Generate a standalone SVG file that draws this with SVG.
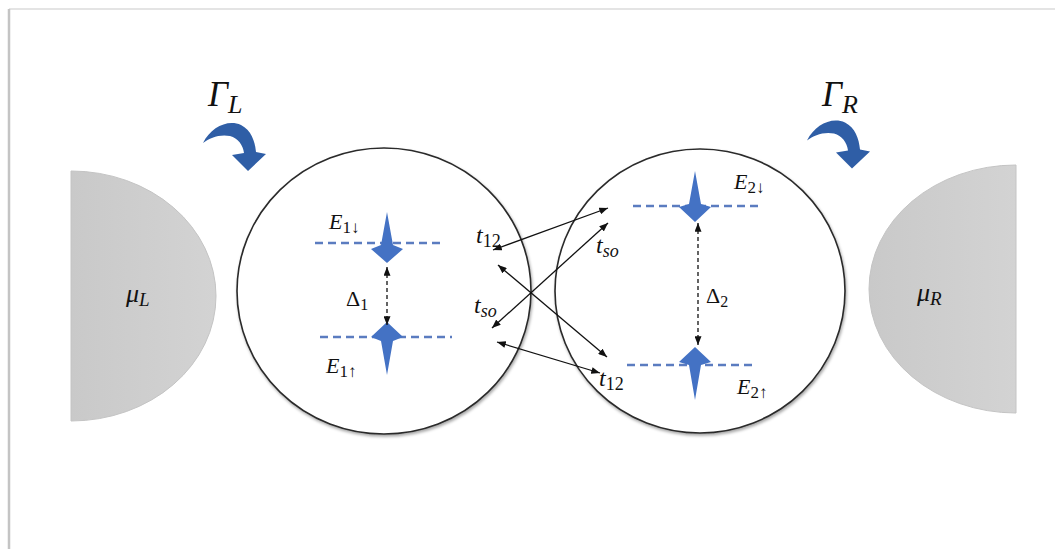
<svg xmlns="http://www.w3.org/2000/svg" width="1055" height="549" viewBox="0 0 1055 549">
<style>
.lead{fill:url(#gray);stroke:#c4c4c4;stroke-width:1}
.dot{fill:#fff;stroke:#2a2a2a;stroke-width:1.6}
.flow{fill:#2f5ea6}
.spin{fill:#4472c4}
.level{stroke:#5b7cc0;stroke-width:2.5;stroke-dasharray:8 5;fill:none}
.gap{stroke:#111;stroke-width:1.3;stroke-dasharray:4 3;fill:none}
.hop{stroke:#111;stroke-width:1.3;fill:none}
.m{font-family:"Liberation Serif","DejaVu Serif",serif;font-style:italic;fill:#111}
.u{font-family:"Liberation Serif","DejaVu Serif",serif;font-style:normal;fill:#111}
</style>
<defs>
<linearGradient id="gray" x1="0" y1="0" x2="1" y2="0">
<stop offset="0" stop-color="#c9c9c9"/>
<stop offset="1" stop-color="#d3d3d3"/>
</linearGradient>
<filter id="sh" x="-10%" y="-10%" width="120%" height="120%">
<feDropShadow dx="1" dy="2" stdDeviation="1.5" flood-color="#000" flood-opacity="0.35"/>
</filter>
<marker id="ah" viewBox="0 0 10 8" refX="10" refY="4" markerWidth="9" markerHeight="7" markerUnits="userSpaceOnUse" orient="auto-start-reverse">
<path d="M0,0 L10,4 L0,8 Z" fill="#111"/>
</marker>
</defs>
<rect x="0" y="0" width="1055" height="549" fill="#fff"/>
<line x1="9" y1="9" x2="1055" y2="9" stroke="#e4e4e4" stroke-width="2"/>
<line x1="9" y1="9" x2="9" y2="549" stroke="#c4c4c4" stroke-width="2.5"/>

<g id="lead-left">
<path class="lead" d="M71,171 A145,125 0 0 1 71,421 Z"/>
<text class="m" x="126" y="302" font-size="26">μ<tspan font-size="19" dy="4">L</tspan></text>
</g>
<g id="lead-right">
<path class="lead" d="M1016,165 A147,124 0 0 0 1016,413 Z"/>
<text class="m" x="917" y="301" font-size="26">μ<tspan font-size="19" dy="4">R</tspan></text>
</g>

<g id="gamma-left">
<path class="flow" d="M203,143 C211,127 228,119 241,125 C251,130 255,141 256,152 L266,154 L248,171 L232,155 L244,153 C243,145 238,138 230,136 C219,134 210,138 203,143 Z"/>
<text class="m" x="208" y="106" font-size="35">Γ<tspan font-size="26" dy="7">L</tspan></text>
</g>
<g id="gamma-right">
<path class="flow" transform="translate(604,-2.5)" d="M203,143 C211,127 228,119 241,125 C251,130 255,141 256,152 L266,154 L248,171 L232,155 L244,153 C243,145 238,138 230,136 C219,134 210,138 203,143 Z"/>
<text class="m" x="822" y="106" font-size="35">Γ<tspan font-size="26" dy="7">R</tspan></text>
</g>

<g id="dot-1">
<ellipse class="dot" filter="url(#sh)" cx="384" cy="291" rx="147" ry="143"/>
<line class="level" x1="315" y1="243" x2="445" y2="243"/>
<line class="level" x1="320" y1="337" x2="452" y2="337"/>
<path class="spin" d="M387,212 L393,245 L403,249 L387,263 L371,249 L381,245 Z"/>
<path class="spin" d="M387,322 L403,337 L393,341 L387,375 L381,341 L371,337 Z"/>
<line class="gap" x1="387" y1="267" x2="387" y2="325" marker-start="url(#ah)" marker-end="url(#ah)"/>
<text class="m" x="329" y="229" font-size="22">E<tspan class="u" font-style="normal" font-size="17" dy="4">1↓</tspan></text>
<text class="m" x="326" y="373" font-size="22">E<tspan class="u" font-style="normal" font-size="17" dy="4">1↑</tspan></text>
<text class="u" x="346" y="306" font-size="22">Δ<tspan font-size="16" dy="4">1</tspan></text>
</g>

<g id="dot-2">
<ellipse class="dot" filter="url(#sh)" cx="700" cy="291" rx="145" ry="142"/>
<line class="level" x1="633" y1="206" x2="763" y2="206"/>
<line class="level" x1="627" y1="365" x2="757" y2="365"/>
<path class="spin" d="M695,171 L701,204 L711,207 L695,222 L679,207 L689,204 Z"/>
<path class="spin" d="M695,347 L711,362 L701,365 L695,400 L689,365 L679,362 Z"/>
<line class="gap" x1="698" y1="223" x2="698" y2="345" marker-start="url(#ah)" marker-end="url(#ah)"/>
<text class="m" x="734" y="189" font-size="22">E<tspan class="u" font-style="normal" font-size="17" dy="4">2↓</tspan></text>
<text class="m" x="737" y="394" font-size="22">E<tspan class="u" font-style="normal" font-size="17" dy="4">2↑</tspan></text>
<text class="u" x="706" y="303" font-size="22">Δ<tspan font-size="16" dy="4">2</tspan></text>
</g>

<g id="connectors">
<line class="hop" x1="493" y1="250" x2="608" y2="208" marker-start="url(#ah)" marker-end="url(#ah)"/>
<line class="hop" x1="492" y1="328" x2="608" y2="223" marker-start="url(#ah)" marker-end="url(#ah)"/>
<line class="hop" x1="498" y1="265" x2="607" y2="357" marker-start="url(#ah)" marker-end="url(#ah)"/>
<line class="hop" x1="497" y1="342" x2="600" y2="373" marker-start="url(#ah)" marker-end="url(#ah)"/>
</g>

<g id="labels">
<text class="m" x="476" y="243" font-size="24">t<tspan class="u" font-style="normal" font-size="18" dy="4">12</tspan></text>
<text class="m" x="596" y="253" font-size="24">t<tspan font-size="18" dy="4">so</tspan></text>
<text class="m" x="474" y="313" font-size="24">t<tspan font-size="18" dy="4">so</tspan></text>
<text class="m" x="599" y="386" font-size="24">t<tspan class="u" font-style="normal" font-size="18" dy="4">12</tspan></text>
</g>
</svg>
